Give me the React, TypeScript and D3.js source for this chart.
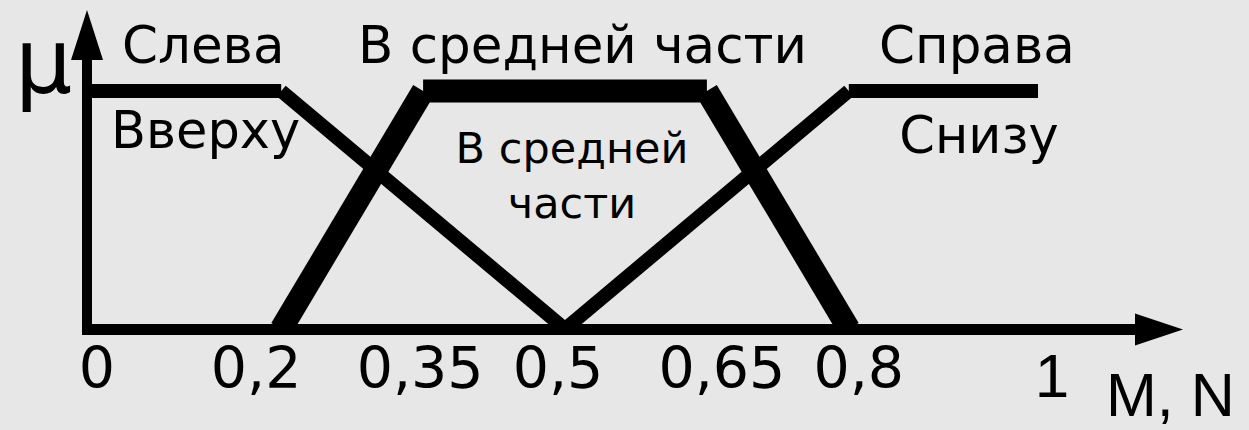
import React, { useEffect, useRef } from 'react';
import * as d3 from 'd3';

// membership functions (x value, mu value)
const topSeries = [
  [0, 1],
  [0.2, 1],
  [0.5, 0],
];
const middleSeries = [
  [0.2, 0],
  [0.35, 1],
  [0.65, 1],
  [0.8, 0],
];
const bottomSeries = [
  [0.5, 0],
  [0.8, 1],
  [1, 1],
];

const tickValues = [0, 0.2, 0.35, 0.5, 0.65, 0.8, 1];
const tickLabels = ['0', '0,2', '0,35', '0,5', '0,65', '0,8', '1'];

const topLabels = ['Слева', 'В средней части', 'Справа'];
const innerLabels = ['Вверху', 'Снизу'];
const middleInner = ['В средней', 'части'];

const W = 1249;
const H = 430;
const FONT = '"DejaVu Sans", Verdana, sans-serif';

export default function App() {
  const ref = useRef<SVGSVGElement>(null);

  useEffect(() => {
    const svg = d3.select(ref.current);
    svg.selectAll('*').remove();

    // set the ranges
    const xScale = d3.scaleLinear().domain([0, 1]).range([92, 1038]);
    const yScale = d3.scaleLinear().domain([0, 1]).range([329, 91]);

    svg.append('rect').attr('width', W).attr('height', H).attr('fill', '#e7e7e7');

    // axes with arrow heads
    const x0 = 87;
    const y0 = 329.5;
    svg
      .append('line')
      .attr('x1', x0 - 5)
      .attr('y1', y0)
      .attr('x2', 1140)
      .attr('y2', y0)
      .attr('stroke', '#000')
      .attr('stroke-width', 11);
    svg
      .append('path')
      .attr('d', `M1135,${y0 - 16}L1183,${y0}L1135,${y0 + 16}Z`)
      .attr('fill', '#000');
    svg
      .append('line')
      .attr('x1', x0)
      .attr('y1', y0 + 5)
      .attr('x2', x0)
      .attr('y2', 55)
      .attr('stroke', '#000')
      .attr('stroke-width', 10);
    svg
      .append('path')
      .attr('d', `M${x0 - 16},60L${x0},10L${x0 + 16},60Z`)
      .attr('fill', '#000');

    const line = d3
      .line()
      .x((d) => xScale(d[0]))
      .y((d) => yScale(d[1]));

    // every segment separately, butt ends like the original
    const drawSeries = (data, width) => {
      for (let i = 0; i < data.length - 1; i++) {
        svg
          .append('path')
          .attr('d', line([data[i], data[i + 1]]))
          .attr('fill', 'none')
          .attr('stroke', '#000')
          .attr('stroke-width', width)
          .attr('stroke-linecap', 'butt');
      }
    };
    drawSeries(topSeries, 14);
    drawSeries(bottomSeries, 14);
    drawSeries(middleSeries, 23);

    // tick labels
    const tickNudge = [5, -25, -3, -7, 15, 10, 14];
    svg
      .append('g')
      .selectAll('text')
      .data(tickValues)
      .join('text')
      .attr('x', (d, i) => xScale(d) + tickNudge[i])
      .attr('y', (d, i) => (i === 6 ? 397 : 388))
      .attr('text-anchor', 'middle')
      .attr('font-family', (d, i) => (i === 6 ? '"Liberation Sans", Arial, sans-serif' : FONT))
      .attr('font-size', (d, i) => (i === 6 ? 62 : 57))
      .attr('fill', '#000')
      .text((d, i) => tickLabels[i]);

    svg
      .append('text')
      .attr('x', 1106)
      .attr('y', 416)
      .attr('font-family', '"Liberation Sans", Arial, sans-serif')
      .attr('font-size', 61)
      .text('M, N');

    svg
      .append('text')
      .attr('x', 15)
      .attr('y', 93)
      .attr('font-family', FONT)
      .attr('font-size', 90)
      .text('μ');

    // labels above the plateaus
    const topX = [122, 358, 879];
    topLabels.forEach((t, i) => {
      svg
        .append('text')
        .attr('x', topX[i])
        .attr('y', 63)
        .attr('font-family', FONT)
        .attr('font-size', 51.5)
        .text(t);
    });

    svg
      .append('text')
      .attr('x', 111)
      .attr('y', 148)
      .attr('font-family', FONT)
      .attr('font-size', 51)
      .text(innerLabels[0]);
    svg
      .append('text')
      .attr('x', 979)
      .attr('y', 153)
      .attr('text-anchor', 'middle')
      .attr('font-family', FONT)
      .attr('font-size', 51)
      .text(innerLabels[1]);

    middleInner.forEach((t, i) => {
      svg
        .append('text')
        .attr('x', 572)
        .attr('y', 163 + i * 55)
        .attr('text-anchor', 'middle')
        .attr('font-family', FONT)
        .attr('font-size', 43)
        .text(t);
    });
  }, []);

  return (
    <div style={{ position: 'fixed', left: 0, top: 0 }}>
      <svg ref={ref} width={W} height={H} style={{ display: 'block' }}></svg>
    </div>
  );
}
